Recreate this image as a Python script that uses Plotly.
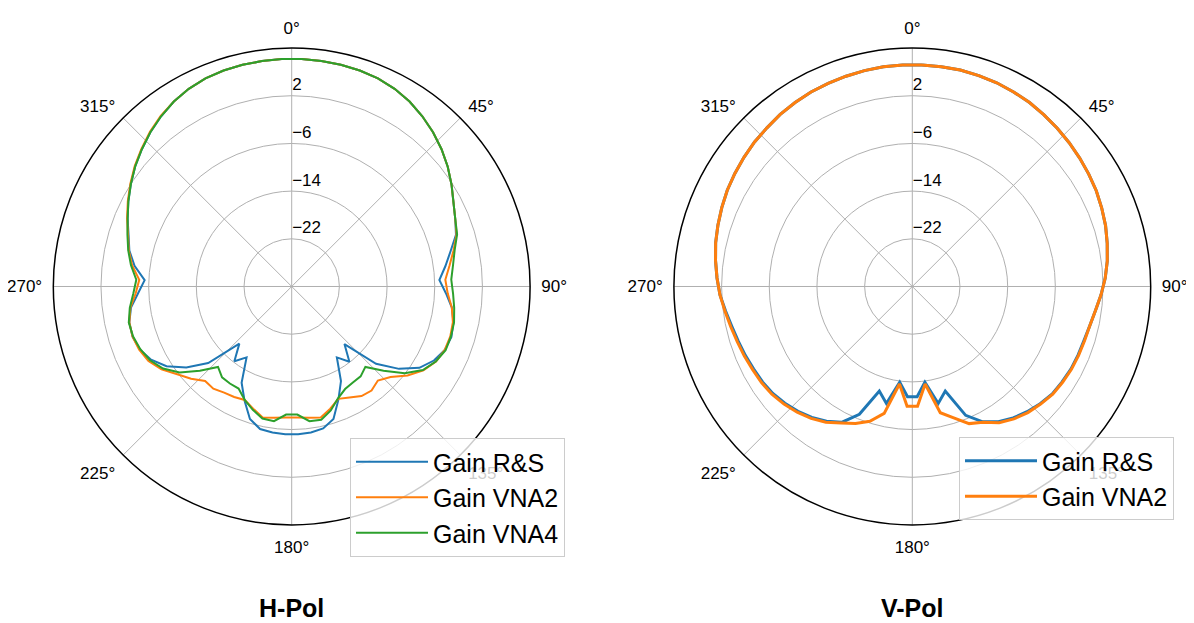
import plotly.graph_objects as go

# Sample angles (degrees, clockwise from 0° at top)
theta = [2.5 + 5 * k for k in range(72)]

# ---- H-Pol gains (dB) ----
h_rs = [8.2, 8.15, 8.1, 8.0, 7.8, 7.4, 6.8, 6.0, 5.1, 4.1, 3.0, 1.8, 0.6, -0.3, -1.1,
        -2.7, -4.0, -5.2, -4.1, -2.9, -2.2, -1.9, -2.2, -3.1, -4.6, -7.3, -10.8, -16.9,
        -14.1, -15.9, -12.1, -9.5, -6.7, -5.6, -5.3, -5.2, -5.2, -5.3, -5.5, -6.7, -9.3,
        -11.8, -15.9, -14.2, -17.0, -11.0, -7.7, -5.1, -3.4, -2.4, -2.0, -2.1, -2.8, -4.2,
        -5.3, -3.4, -2.1, -1.3, -0.2, 0.9, 2.0, 3.1, 4.1, 5.1, 6.0, 6.8, 7.4, 7.8, 8.0,
        8.1, 8.15, 8.2]
h_vna2 = [8.2, 8.15, 8.1, 8.0, 7.8, 7.4, 6.8, 6.0, 5.1, 4.1, 3.0, 1.8, 0.6, -0.3, -1.0,
          -2.2, -3.3, -4.2, -3.8, -2.9, -2.3, -2.1, -2.2, -2.7, -3.8, -5.5, -7.5, -8.6,
          -8.0, -8.2, -9.0, -9.6, -8.5, -7.5, -7.8, -8.0, -8.0, -7.8, -7.5, -8.5, -9.4,
          -9.1, -8.9, -8.4, -8.5, -7.1, -5.8, -4.1, -2.9, -2.3, -2.0, -2.1, -2.7, -3.8,
          -4.4, -3.0, -2.0, -1.2, -0.1, 1.0, 2.1, 3.2, 4.2, 5.2, 6.1, 6.8, 7.4, 7.8, 8.0,
          8.1, 8.15, 8.2]
h_vna4 = [8.2, 8.15, 8.1, 8.0, 7.8, 7.4, 6.8, 6.0, 5.1, 4.1, 3.0, 1.8, 0.6, -0.3, -0.9,
          -2.0, -2.7, -3.2, -2.9, -2.5, -2.1, -2.0, -2.05, -2.75, -3.9, -6.1, -9.1, -11.7,
          -11.0, -10.9, -10.6, -9.7, -8.2, -7.1, -7.2, -8.5, -8.5, -7.2, -7.3, -8.3, -9.4,
          -10.7, -10.7, -10.8, -11.7, -9.1, -6.3, -4.4, -3.2, -2.5, -2.1, -2.0, -2.6, -3.4,
          -3.9, -2.8, -1.9, -1.1, -0.2, 0.9, 2.0, 3.1, 4.1, 5.1, 6.0, 6.8, 7.4, 7.8, 8.0,
          8.1, 8.15, 8.2]

# ---- V-Pol gains (dB) ----
v_rs = [7.2, 7.2, 7.2, 7.1, 7.0, 6.8, 6.6, 6.3, 6.0, 5.7, 5.4, 5.1, 4.8, 4.4, 4.0,
        3.5, 3.0, 2.4, 1.7, 1.0, 0.5, 0.2, 0.1, 0.0, -0.2, -0.4, -0.9, -1.5, -2.2, -3.1,
        -4.4, -6.6, -11.6, -9.9, -13.8, -11.5, -11.5, -13.8, -9.9, -11.6, -6.8, -4.3,
        -3.2, -2.3, -1.6, -1.0, -0.5, -0.2, 0.0, 0.3, 0.6, 1.0, 1.6, 2.3, 2.8, 3.3, 3.8,
        4.2, 4.6, 5.0, 5.3, 5.6, 5.9, 6.1, 6.4, 6.6, 6.8, 6.9, 7.0, 7.1, 7.2, 7.2]
v_vna2 = [7.2, 7.2, 7.2, 7.1, 7.0, 6.8, 6.6, 6.3, 6.0, 5.7, 5.4, 5.1, 4.8, 4.4, 4.0,
          3.5, 3.0, 2.4, 1.7, 1.0, 0.5, 0.3, 0.2, 0.1, -0.1, -0.3, -0.8, -1.3, -2.0, -2.9,
          -4.3, -5.1, -6.9, -8.3, -13.5, -9.9, -9.9, -13.5, -8.2, -6.3, -5.1, -4.2,
          -3.0, -2.1, -1.4, -0.8, -0.3, 0.0, 0.2, 0.5, 0.8, 1.2, 1.7, 2.3, 2.8, 3.3, 3.8,
          4.2, 4.6, 5.0, 5.3, 5.6, 5.9, 6.1, 6.4, 6.6, 6.8, 6.9, 7.0, 7.1, 7.2, 7.2]

angle_ticks = [0, 45, 90, 135, 180, 225, 270, 315]
angle_labels = ["0°", "45°", "90°", "135°", "180°", "225°", "270°", "315°"]
r_ticks = [-22, -14, -6, 2]
r_labels = ["−22", "−14", "−6", "2"]
r_range = [-30, 10]

colors = {"R&S": "#1f77b4", "VNA2": "#ff7f0e", "VNA4": "#2ca02c"}
FONT = "Liberation Sans, Arial, Helvetica, sans-serif"

# Page body has an 8px margin: figure is sized so the page fills the 1194x623 window
W, H = 1186, 615


def closed(a):
    return list(a) + [a[0]]


fig = go.Figure()
for name, vals, col in [("Gain R&S", h_rs, colors["R&S"]),
                        ("Gain VNA2", h_vna2, colors["VNA2"]),
                        ("Gain VNA4", h_vna4, colors["VNA4"])]:
    fig.add_trace(go.Scatterpolar(r=closed(vals), theta=closed(theta), mode="lines",
                                  name=name, line=dict(color=col, width=2),
                                  subplot="polar", legend="legend"))
for name, vals, col in [("Gain R&S", v_rs, colors["R&S"]),
                        ("Gain VNA2", v_vna2, colors["VNA2"])]:
    fig.add_trace(go.Scatterpolar(r=closed(vals), theta=closed(theta), mode="lines",
                                  name=name, line=dict(color=col, width=3),
                                  subplot="polar2", legend="legend2"))

polar_common = dict(
    bgcolor="white",
    angularaxis=dict(rotation=90, direction="clockwise", tickmode="array",
                     tickvals=angle_ticks, ticktext=angle_labels, showline=True,
                     linecolor="black", linewidth=1.5, gridcolor="#b0b0b0", gridwidth=1,
                     ticks="outside", ticklen=7, tickcolor="rgba(0,0,0,0)",
                     tickfont=dict(size=17, color="black", family=FONT)),
    radialaxis=dict(range=r_range, tickmode="array", tickvals=r_ticks,
                    ticktext=[t + "<br> " for t in r_labels], angle=90,
                    tickangle=90, side="clockwise",
                    showline=False, ticks="", gridcolor="#b0b0b0", gridwidth=1,
                    tickfont=dict(size=17, color="black", family=FONT)),
)

legend_common = dict(xanchor="right", yanchor="bottom", itemwidth=72,
                     bgcolor="rgba(255,255,255,0.8)", bordercolor="#cccccc", borderwidth=1,
                     font=dict(size=25, family=FONT))

fig.update_layout(
    width=W, height=H,
    margin=dict(l=0, r=0, t=0, b=0),
    paper_bgcolor="white",
    font=dict(family=FONT, color="black"),
    polar=dict(domain=dict(x=[0.03820, 0.44022], y=[0.15951, 0.93480]), **polar_common),
    polar2=dict(domain=dict(x=[0.56147, 0.96349], y=[0.15951, 0.93480]), **polar_common),
    legend=dict(x=557 / W, y=(H - 549) / H, **legend_common),
    legend2=dict(x=1166 / W, y=(H - 512) / H, **legend_common),
    annotations=[
        dict(text="<b>H-Pol</b>", x=283.7 / W, y=(H - 600) / H, xref="paper", yref="paper",
             xanchor="center", yanchor="middle", showarrow=False,
             font=dict(size=25, family=FONT)),
        dict(text="<b>V-Pol</b>", x=904.3 / W, y=(H - 600) / H, xref="paper", yref="paper",
             xanchor="center", yanchor="middle", showarrow=False,
             font=dict(size=25, family=FONT)),
    ],
)

fig.write_html("out.html")
